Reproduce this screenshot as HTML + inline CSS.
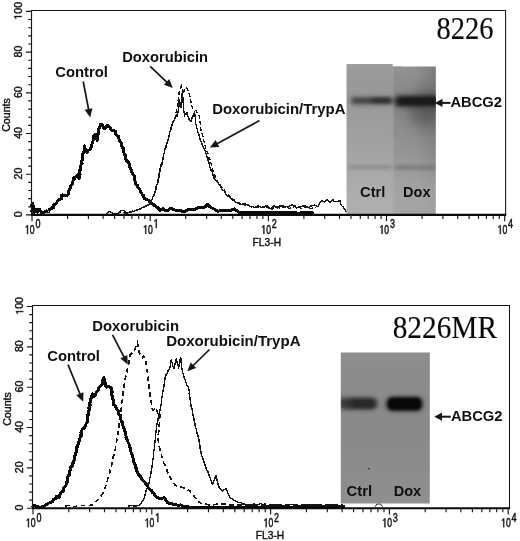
<!DOCTYPE html>
<html lang="en">
<head>
<meta charset="utf-8">
<title>ABCG2 expression - FL3-H histograms 8226 / 8226MR</title>
<style>
html,body{margin:0;padding:0;background:#fff;}
body{width:520px;height:541px;overflow:hidden;font-family:"Liberation Sans",sans-serif;}
svg{display:block;opacity:0.999;}
text{font-family:"Liberation Sans",sans-serif;fill:#101010;stroke:#101010;stroke-width:0.3px;paint-order:stroke;}
.lb{font-weight:bold;font-size:14.4px;stroke-width:0;}
.tk{font-size:10.6px;stroke-width:0.4px;}
.tx{font-size:12.6px;stroke-width:0.5px;}
.ti{font-family:"Liberation Serif",serif;font-size:31px;fill:#0a0a0a;stroke-width:0.15px;}
</style>
</head>
<body>
<svg width="520" height="541" viewBox="0 0 520 541">
<defs>
<filter id="b1" x="-20%" y="-60%" width="140%" height="220%"><feGaussianBlur stdDeviation="1.6 1.5"/></filter>
<filter id="b2" x="-20%" y="-60%" width="140%" height="220%"><feGaussianBlur stdDeviation="2.2 1.7"/></filter>
<filter id="b3" x="-20%" y="-80%" width="140%" height="260%"><feGaussianBlur stdDeviation="2.5 2.2"/></filter>
<filter id="b5" x="-30%" y="-30%" width="160%" height="160%"><feGaussianBlur stdDeviation="5 7"/></filter>
<filter id="soft"><feGaussianBlur stdDeviation="0.35"/></filter>
<linearGradient id="g1a" x1="0" y1="0" x2="0" y2="1">
 <stop offset="0" stop-color="#a2a2a2"/><stop offset="0.04" stop-color="#9b9b9b"/><stop offset="0.2" stop-color="#989898"/><stop offset="0.32" stop-color="#9c9c9c"/>
 <stop offset="0.5" stop-color="#a0a0a0"/><stop offset="0.65" stop-color="#a6a6a6"/><stop offset="0.8" stop-color="#acacac"/><stop offset="1" stop-color="#b0b0b0"/></linearGradient>
<linearGradient id="g1b" x1="0" y1="0" x2="0" y2="1">
 <stop offset="0" stop-color="#959595"/><stop offset="0.18" stop-color="#8c8c8c"/><stop offset="0.3" stop-color="#868686"/>
 <stop offset="0.45" stop-color="#8f8f8f"/><stop offset="0.6" stop-color="#979797"/><stop offset="0.8" stop-color="#a2a2a2"/><stop offset="1" stop-color="#a6a6a6"/></linearGradient>
<filter id="hb" x="-10%" y="0" width="120%" height="100%"><feGaussianBlur stdDeviation="1.3 0"/></filter>
<linearGradient id="g1c" x1="0" y1="0" x2="1" y2="0">
 <stop offset="0" stop-color="#000" stop-opacity="0"/><stop offset="0.55" stop-color="#000" stop-opacity="0.03"/>
 <stop offset="1" stop-color="#000" stop-opacity="0.2"/></linearGradient>
<linearGradient id="g1d" x1="0" y1="0" x2="0" y2="1">
 <stop offset="0" stop-color="#fff" stop-opacity="0"/><stop offset="0.45" stop-color="#fff" stop-opacity="0"/>
 <stop offset="0.75" stop-color="#fff" stop-opacity="1"/><stop offset="1" stop-color="#fff" stop-opacity="1"/></linearGradient>
<mask id="m1"><rect x="390" y="60" width="50" height="160" fill="#fff"/><rect x="390" y="60" width="50" height="160" fill="url(#g1e)"/></mask>
<linearGradient id="g1e" x1="0" y1="0" x2="0" y2="1">
 <stop offset="0" stop-color="#000" stop-opacity="0.3"/><stop offset="0.25" stop-color="#000" stop-opacity="0"/>
 <stop offset="0.5" stop-color="#000" stop-opacity="0.35"/><stop offset="0.8" stop-color="#000" stop-opacity="0.85"/><stop offset="1" stop-color="#000" stop-opacity="0.9"/></linearGradient>
<linearGradient id="g2" x1="0" y1="0" x2="0" y2="1">
 <stop offset="0" stop-color="#8d8d8d"/><stop offset="0.5" stop-color="#898989"/><stop offset="1" stop-color="#8f8f8f"/></linearGradient>
<clipPath id="cb1"><path d="M346.5 64 H392.6 V66.4 H435.8 V214 H346.5Z"/></clipPath>
<clipPath id="cb2"><rect x="340.8" y="352.6" width="89" height="150.9"/></clipPath>
</defs>
<rect width="520" height="541" fill="#fff"/>
<g>
<path d="M106.5 213.6 L109.8 211.3 L113 213.6 L115.5 213.4 L118 213.6 L121 210.6 L124 210.6 L126.5 213.2 L129 212.6 L130 212.5 L133 211.5 L136 210.5 L140 209 L142.5 207.7 L145 206.5 L147.4 205.3 L150 204 L150.8 201.5 L152 200 L152.5 198.1 L153.3 195.9 L154 195 L154.6 194 L154.9 192 L155.4 189.8 L156 188 L156.3 185.6 L157.2 183.8 L157.5 182.5 L157.9 181.6 L158 180 L158.5 177.7 L158.9 176.9 L159 175 L159.1 174 L159.7 171.9 L159.9 170 L160.1 168.3 L160.8 167.4 L161 165 L161.4 163.5 L162 162.5 L162.7 160.8 L163 158.5 L163.3 157 L163.7 155.6 L163.9 153.3 L164.2 152.9 L164.8 150 L165.1 148.8 L165.4 147.7 L165.9 146.1 L166.3 145.5 L167 143 L167.4 141.3 L167.9 140.2 L168.5 138.5 L168.9 136.7 L169.2 135.1 L169.3 134.6 L169.7 131.5 L170.2 131.3 L170.4 128.8 L170.8 127.7 L172 125 L172.5 122.7 L173 121.5 L174.5 120 L175.3 117.7 L176 117 L176.9 116.2 L177.3 114 L178 112.8 L178.3 110.8 L178.3 108.4 L178.7 108.6 L178.9 106 L179 104.8 L178.9 102.7 L179 101.4 L179.3 100 L179.8 101.4 L179.7 102.9 L180.1 104 L180.5 106.9 L180.9 108 L180.9 106.1 L181.1 105.7 L181.1 102.8 L181.3 100.9 L181.4 100.5 L181.7 97.8 L182.1 96.6 L182 94.8 L182.1 94.4 L182.3 92.3 L182.4 94.7 L182.5 94.9 L182.6 96 L182.9 97.9 L182.9 100.5 L182.9 100.6 L183 102.5 L183.4 104 L183.2 105.3 L183.5 108.3 L183.6 109 L183.8 111.5 L184.2 112.9 L184.5 114.3 L184.6 115.4 L186 113.5 L187 113 L187.3 115 L188 117 L188.8 118 L189.2 120 L190.8 121.5 L191.6 120.5 L192 118 L193 116 L193.9 113.9 L194.6 112.3 L194.9 114.7 L195.1 116.7 L195.3 118 L195.6 119.9 L195.8 120.9 L195.6 123.8 L196 124.6 L196.6 126.9 L196.7 127.8 L197.3 129 L197.5 131.3 L198.2 133 L198.5 133.8 L198.8 134.5 L199.5 137.1 L200.1 138.9 L200.1 139.5 L200.8 141.5 L202 143 L202.3 145.3 L203 146 L203.6 148.3 L204.7 149.8 L205.4 150.8 L206 153.6 L206.5 155 L207 157.4 L207.7 158.5 L208.1 160.3 L208.7 162.2 L209 163 L209.3 164.4 L209.5 165.1 L210 167.5 L210.6 169 L211.3 170.9 L211.8 171 L212.5 173 L213.1 175.2 L213.9 175.6 L214.2 178.8 L215 180 L216.2 181.1 L217.5 182 L218.7 184 L220 185 L220.8 186.2 L221.5 189.2 L222.5 190 L223.8 190.6 L225 192.5 L226.3 194.9 L227.5 196 L230 197.5 L231.4 198.6 L232.5 200 L235 201 L236.1 202.5 L237.5 203 L240 204 L241.4 204.4 L243 203.5 L244.7 203.6 L246.1 204.4 L247.5 205 L249.4 205.4 L251 207 L252.8 206.7 L255 207.5 L256.8 206.7 L258 205.5 L260.5 207.1 L262 207.5 L264.5 207 L266 205.5 L267.3 205.6 L268.8 208.4 L270 208.5 L270.9 208.5 L272.4 206.8 L274 206 L276.1 207.1 L278 208 L279.4 206.2 L281.8 205.9 L283 205.5 L284.3 206.4 L285.9 206.8 L288 206.5 L289.3 206.4 L291.7 204.8 L293 205.5 L294.4 205.6 L296.7 207.8 L298 207.5 L300.2 206.6 L301.5 206.6 L303 206 L305.2 205.9 L306.8 207.4 L308 207.5 L309.4 207.6 L311 205.9 L313 205.5 L314.2 205.1 L316.4 205.8 L318 206.5 L319.2 203.8 L320 203 L320.8 201.4 L322 200.5 L324 202 L325.5 201.4 L327 199.5 L328.5 200.6 L330 202.5 L331 201.7 L333 200 L334 201.7 L336 201.5 L337.9 201.5 L339 200.5 L340 201 L340.4 203.2 L341 205 L343 207 L343.5 207.3 L345 209.5 L346 212" fill="none" stroke="#161616" stroke-width="1.4" stroke-linejoin="miter" shape-rendering="crispEdges"/>
<path d="M112 213.4 L114.2 213.8 L115.8 213.4 L118 213.4 L121 211.5 L123.1 211.7 L125 213 L127.2 212.5 L129.2 211.8 L131 211.5 L133.2 210.7 L134.9 210.8 L137 210 L139.1 209.2 L141 208 L143 207.5 L144.8 206.9 L147.1 205.9 L149 204.5 L150.2 202.7 L151.9 199.7 L153 198 L153.7 196.2 L154.3 193.3 L155.1 191.8 L156 189.5 L156.7 187.7 L157.4 184.4 L158.2 182.2 L158.5 180 L158.9 178.5 L159.5 176.2 L160.1 174.4 L160.1 171.4 L160.5 170.1 L160.8 168.1 L161.5 166 L162 164.5 L162.5 161.5 L162.6 159.8 L163 158 L164 155.7 L163.8 154.2 L164.6 152 L164.9 150.1 L166.1 147.3 L166.3 145.4 L167 143 L167.5 140.7 L168.5 138.2 L168.7 135.9 L169.3 134.5 L170 132 L170.5 130.6 L171.5 128.6 L172.1 126.2 L172.5 124 L173.8 121.2 L174.6 118.5 L175.2 116.7 L175.9 114.1 L176.3 112 L176.5 109.9 L177.1 108.3 L177.7 106 L178.2 103.7 L177.9 100.9 L178.5 99 L178.8 96.3 L178.8 94.4 L179.2 92.3 L180.3 88.5 L181.5 86 L182.2 87.9 L182.3 90 L182.6 91.7 L183 94 L183.7 92.5 L184.2 90 L185.4 87.7 L187 88.5 L188.5 90.8 L189.5 94.5 L189.9 96.2 L190.3 98.5 L190.6 100.7 L191.3 103 L191.7 105.2 L192.3 107.7 L194 109.5 L196 110.8 L197.6 113 L199.2 115.4 L199.3 118.6 L199.7 121 L200.3 123.7 L200.3 126 L200.7 128.5 L201.1 130.1 L201.7 132 L202.1 134 L202.9 136.7 L203 138.5 L204.2 142 L204.5 143.7 L205.4 146 L205.9 148.4 L207 151 L207.8 152.8 L208.5 155.2 L209 158 L209.9 159.8 L210 162.4 L211.2 163.6 L211.5 166 L212.1 168.1 L213 170.3 L213.4 172 L214 174 L214.9 175.7 L216.1 177.9 L217 180.5 L218.1 182.5 L219.4 184.3 L221 186 L222.4 187.4 L223.9 189.6 L225 191.5 L226.5 193.2 L227.9 194.1 L229 196 L230.7 196.8 L232.6 199.2 L234 200 L236.5 202 L239 203 L241.2 203.9 L243.3 203.9 L245 205 L247 206 L249 206.3 L251 206.5 L253.6 206.5 L256 207 L257.7 207.4 L260 208.5 L261.6 207.5 L264 206 L265.9 206.8 L268 207.5 L270 207.7 L272 209.5 L273.9 207.4 L276 207 L277.3 206.7 L279.7 207.9 L281 208.5 L282.4 207.2 L284.8 207.4 L286 206.5 L287.6 207.1 L288.9 208.4 L291 208 L292.5 208 L294 206 L296 206 L298 206.5 L299.4 207.1 L301 208.5 L302.5 208.3 L303.9 207.6 L306 207 L307.4 206.7 L309.3 208.3 L311 208.5 L312.8 207.8 L314.1 207.7 L316 207.5" fill="none" stroke="#161616" stroke-width="1.4" stroke-dasharray="3.8 2.4" stroke-linejoin="miter" shape-rendering="crispEdges"/>
<path d="M32 214 L32.6 211.4 L31.7 211.6 L32.1 209.3 L32.6 208.1 L31.5 205 L32.2 205.5 L32.3 203 L31.8 205.2 L33.1 205.8 L33.7 206.7 L32.6 210.1 L33.6 209.2 L33.8 212 L34.5 212 L35.5 209.5 L36.4 210.1 L37.5 212.3 L38 209.3 L39.3 209 L40.4 210.6 L41.5 212.5 L44 212.5 L46.4 211 L48.5 211.5 L49.3 209.5 L51 209 L52.3 207.5 L53.8 207.5 L53.7 205.2 L55 204 L56.3 203.4 L57.5 201 L58.3 200.4 L60 199 L61.4 199 L61.4 195.3 L62.5 195 L65 196 L67.5 195 L68.3 194 L68.4 192.9 L69 190 L69.9 189.3 L70.5 186.1 L71 185 L72.4 184.4 L72.8 181.7 L73.5 180 L73.9 177.4 L75 178.2 L76 176 L77.5 175 L78.3 176.1 L79 179 L79.5 178 L79.4 175.5 L80.1 174.4 L79.7 172.8 L79.4 171.2 L80.6 168.4 L80.7 169.5 L80.3 166.3 L81 165 L82 163.5 L81.6 162.8 L81.3 161.5 L82.7 159 L82.2 157.7 L82.6 155.4 L82 155.8 L83 153 L83.9 152 L84.1 150.6 L84.2 148.6 L84.5 146 L85.1 148.2 L86 150 L87 152.5 L88.6 150 L89 150 L91 149 L90.9 147.6 L91.8 145.8 L92 143.8 L92.8 142.7 L93 141 L93.4 139.6 L93.6 136.2 L94.6 134.8 L95 134 L96 136.5 L96 137 L97 139.8 L97 141 L97.9 138.6 L97 138.2 L97.3 134.6 L97.9 135 L98.9 131.6 L99 131 L98.8 128.8 L100 126.5 L100.2 124.8 L101 124 L102.5 125 L103.2 127.6 L104 129 L106 127 L108 125 L109.5 127 L110.2 128 L111 130 L113 130 L115 131 L115.5 131.3 L115.9 134.1 L117 136 L118.6 136.4 L119 139 L119.3 140.5 L120.5 142 L121.7 144.1 L121.1 144.3 L122.5 147.5 L123.3 148.3 L123.8 150.2 L124 153 L124.6 155.2 L125.7 155.7 L125.5 159.1 L126 160 L128 162 L128.9 163.1 L129.5 165.4 L130 167.5 L130.8 168.6 L130.9 169.5 L132.5 173.7 L132.5 174 L133.7 175 L134.4 176.5 L134.2 179.2 L135 180 L134.9 180.8 L135.5 184.1 L137.6 185.4 L137.5 186 L137.8 187.5 L139.9 189.7 L140 190 L140.8 192.2 L141.4 193 L142.5 195 L143.6 195.5 L143.7 197.5 L145 199 L147.5 200 L149 200.1 L150 202.5 L152.5 204 L153.7 204.4 L155 206 L157.5 207.5 L159 209 L160 210.5 L163 208.8 L166 210.8 L168.2 210.1 L170 208.5 L172.3 208.9 L175 210 L177.6 210.4 L180 210.2 L184 212 L185.9 210.9 L188 209.5 L190.4 209.5 L192.5 209.4 L195 209.2 L197.4 208.1 L200 207.2 L202.7 207.3 L205 207 L207.7 204.4 L209.4 206.4 L211 207.5 L212.9 208.5 L215 209.5 L218 211.5 L220.1 210.6 L222.6 210.5 L225 210 L227.7 210.2 L230 210.6 L232.3 209.8 L234.6 209 L236.3 210.4 L238.5 212.2 L240.6 212.1 L243.3 212.3 L245.2 212.5 L247.8 212.8 L250 212.5 L252.6 212.7 L254.9 212.6 L257.4 212.2 L259.4 212.7 L262 212.2 L264.7 212.5 L267.2 212.4 L270 212.5 L272.6 212.6 L275 212.7 L277.7 212.5 L280 213 L282.7 212.7 L285 212.8 L287.4 212.3 L290 212.5 L292.3 212.7 L294.9 212.9 L297.4 213 L300.1 213 L302.5 212.7 L305 212.7 L307.4 212.8 L309.5 212.5 L312 212.7 L313 214.4" fill="none" stroke="#0a0a0a" stroke-width="3" stroke-linejoin="round" shape-rendering="crispEdges"/>
<g clip-path="url(#cb1)">
<rect x="346" y="63" width="56" height="152" fill="url(#g1a)"/>
<rect x="392.8" y="63" width="54" height="152" fill="url(#g1b)" filter="url(#hb)"/>
<rect x="392.6" y="63" width="44" height="152" fill="url(#g1c)" mask="url(#m1)"/>
<ellipse cx="424" cy="109" rx="16" ry="17" fill="#333" opacity="0.38" filter="url(#b5)"/>
<rect x="392.2" y="66" width="1.2" height="148" fill="#b0b0b0" opacity="0.3"/>
<rect x="349" y="165" width="42" height="4.4" fill="#858585" opacity="0.7" filter="url(#b2)"/>
<rect x="395" y="165" width="41" height="4.8" fill="#777" opacity="0.8" filter="url(#b2)"/>
<rect x="350" y="95.7" width="43" height="10" rx="4" fill="#555" opacity="0.45" filter="url(#b3)"/>
<rect x="352" y="97.8" width="40" height="5.6" rx="2.5" fill="#333" opacity="0.7" filter="url(#b2)"/>
<rect x="372" y="97.6" width="19" height="5.6" rx="2.5" fill="#222" opacity="0.55" filter="url(#b2)"/>
<rect x="394" y="94.3" width="46" height="13.6" rx="5" fill="#333" opacity="0.55" filter="url(#b3)"/>
<rect x="396" y="96.8" width="44" height="9" rx="4" fill="#161616" opacity="0.9" filter="url(#b2)"/>
</g>
<text x="360.1" y="196.8" class="lb" textLength="25.2" lengthAdjust="spacingAndGlyphs">Ctrl</text>
<text x="403.1" y="196.8" class="lb" textLength="27.5" lengthAdjust="spacingAndGlyphs">Dox</text>
<path d="M31.5 10.5 H505.6 V214.9" fill="none" stroke="#161616" stroke-width="1.05"/>
<path d="M31.5 10 V214.9" fill="none" stroke="#161616" stroke-width="1.15"/>
<path d="M30.9 214.9 H506.2" fill="none" stroke="#0a0a0a" stroke-width="2.1"/>
<path d="M25.9 214.9H31.5M28.2 206.8H31.5M28.2 198.6H31.5M28.2 190.5H31.5M28.2 182.3H31.5M25.9 174.2H31.5M28.2 166.1H31.5M28.2 157.9H31.5M28.2 149.8H31.5M28.2 141.6H31.5M25.9 133.5H31.5M28.2 125.4H31.5M28.2 117.2H31.5M28.2 109.1H31.5M28.2 100.9H31.5M25.9 92.8H31.5M28.2 84.7H31.5M28.2 76.5H31.5M28.2 68.4H31.5M28.2 60.2H31.5M25.9 52.1H31.5M28.2 44H31.5M28.2 35.8H31.5M28.2 27.7H31.5M28.2 19.5H31.5M25.9 11.4H31.5" stroke="#161616" stroke-width="1.15" fill="none"/>
<path d="M32 214.9V221.2M67.6 214.9V218.9M88.4 214.9V218.9M103.1 214.9V218.9M114.6 214.9V218.9M124 214.9V218.9M131.9 214.9V218.9M138.7 214.9V218.9M144.8 214.9V218.9M150.2 214.9V221.2M185.7 214.9V218.9M206.6 214.9V218.9M221.3 214.9V218.9M232.8 214.9V218.9M242.1 214.9V218.9M250 214.9V218.9M256.9 214.9V218.9M262.9 214.9V218.9M268.4 214.9V221.2M303.9 214.9V218.9M324.7 214.9V218.9M339.5 214.9V218.9M351 214.9V218.9M360.3 214.9V218.9M368.2 214.9V218.9M375.1 214.9V218.9M381.1 214.9V218.9M386.5 214.9V221.2M422.1 214.9V218.9M442.9 214.9V218.9M457.7 214.9V218.9M469.1 214.9V218.9M478.5 214.9V218.9M486.4 214.9V218.9M493.2 214.9V218.9M499.3 214.9V218.9M504.7 214.9V221.2" stroke="#161616" stroke-width="1.15" fill="none"/>
<text transform="translate(21.6 214.3) rotate(-90)" text-anchor="middle" class="tk">0</text>
<text transform="translate(21.6 173.6) rotate(-90)" text-anchor="middle" class="tk">20</text>
<text transform="translate(21.6 132.9) rotate(-90)" text-anchor="middle" class="tk">40</text>
<text transform="translate(21.6 92.2) rotate(-90)" text-anchor="middle" class="tk">60</text>
<text transform="translate(21.6 51.5) rotate(-90)" text-anchor="middle" class="tk">80</text>
<g transform="translate(21.6 10.8) rotate(-90)"><path d="M-6.18 0.00 L-6.18 -6.40 L-7.83 -5.23 L-7.83 -6.11 L-6.11 -7.29 L-5.25 -7.29 L-5.25 0.00Z" fill="#101010" stroke="#101010" stroke-width="0.4"/><text x="-2.95" y="0" class="tk">00</text></g>
<text transform="translate(10.2 115) rotate(-90)" text-anchor="middle" class="tk">Counts</text>
<path d="M27.17 233.90 L27.17 226.29 L25.83 227.69 L25.83 226.64 L27.23 225.23 L27.93 225.23 L27.93 233.90Z" fill="#101010" stroke="#101010" stroke-width="0.5"/>
<text x="29.8" y="233.9" class="tx" textLength="4.8" lengthAdjust="spacingAndGlyphs">0</text>
<text x="35.4" y="227.9" class="tx" textLength="5" lengthAdjust="spacingAndGlyphs">0</text>
<path d="M145.35 233.90 L145.35 226.29 L144.01 227.69 L144.01 226.64 L145.41 225.23 L146.11 225.23 L146.11 233.90Z" fill="#101010" stroke="#101010" stroke-width="0.5"/>
<text x="148" y="233.9" class="tx" textLength="4.8" lengthAdjust="spacingAndGlyphs">0</text>
<path d="M155.84 227.90 L155.84 220.29 L154.44 221.69 L154.44 220.64 L155.90 219.23 L156.63 219.23 L156.63 227.90Z" fill="#101010" stroke="#101010" stroke-width="0.5"/>
<path d="M263.52 233.90 L263.52 226.29 L262.18 227.69 L262.18 226.64 L263.58 225.23 L264.28 225.23 L264.28 233.90Z" fill="#101010" stroke="#101010" stroke-width="0.5"/>
<text x="266.2" y="233.9" class="tx" textLength="4.8" lengthAdjust="spacingAndGlyphs">0</text>
<text x="271.8" y="227.9" class="tx" textLength="5" lengthAdjust="spacingAndGlyphs">2</text>
<path d="M381.70 233.90 L381.70 226.29 L380.36 227.69 L380.36 226.64 L381.76 225.23 L382.46 225.23 L382.46 233.90Z" fill="#101010" stroke="#101010" stroke-width="0.5"/>
<text x="384.3" y="233.9" class="tx" textLength="4.8" lengthAdjust="spacingAndGlyphs">0</text>
<text x="389.9" y="227.9" class="tx" textLength="5" lengthAdjust="spacingAndGlyphs">3</text>
<path d="M499.87 233.90 L499.87 226.29 L498.53 227.69 L498.53 226.64 L499.93 225.23 L500.63 225.23 L500.63 233.90Z" fill="#101010" stroke="#101010" stroke-width="0.5"/>
<text x="502.5" y="233.9" class="tx" textLength="4.8" lengthAdjust="spacingAndGlyphs">0</text>
<text x="508.1" y="227.9" class="tx" textLength="5" lengthAdjust="spacingAndGlyphs">4</text>
<text x="266.8" y="245.7" text-anchor="middle" class="tk" textLength="28.5" lengthAdjust="spacingAndGlyphs">FL3-H</text>
<text x="55.2" y="77.3" class="lb" textLength="52.8" lengthAdjust="spacingAndGlyphs">Control</text>
<text x="122.2" y="62.4" class="lb" textLength="85.8" lengthAdjust="spacingAndGlyphs">Doxorubicin</text>
<text x="212.2" y="114" class="lb" textLength="133.3" lengthAdjust="spacingAndGlyphs">Doxorubicin/TrypA</text>
<path d="M83.2 81.5 L88.7 110" stroke="#161616" stroke-width="1.7" fill="none"/><path d="M90.2 117.5 L84.7 109.8 L92.4 108.3 Z" fill="#161616"/>
<path d="M150.2 66.4 L167.3 82.7" stroke="#161616" stroke-width="1.7" fill="none"/><path d="M172.8 87.9 L163.9 84.8 L169.3 79.1 Z" fill="#161616"/>
<path d="M259.5 120.6 L216.6 144" stroke="#161616" stroke-width="1.7" fill="none"/><path d="M209.9 147.6 L215.6 140.1 L219.3 146.9 Z" fill="#161616"/>
<path d="M450.5 102.9 L441.5 102.9" stroke="#161616" stroke-width="2.0" fill="none"/><path d="M434.9 102.9 L442.5 98.8 L442.5 107 Z" fill="#161616"/>
<text x="450.4" y="107.1" class="lb" textLength="51.6" lengthAdjust="spacingAndGlyphs">ABCG2</text>
<text x="436.6" y="38.5" class="ti" textLength="57" lengthAdjust="spacingAndGlyphs">8226</text>
</g>
<g>
<path d="M128 506.3 L131 505.6 L136 506 L140 505 L142 502 L142.9 500.5 L143.5 499 L144.2 497.8 L145 495 L145.6 494 L145.8 492.3 L146.4 489.6 L147 489 L147.4 487.8 L147.9 485.8 L148.7 484.7 L149 482.5 L149.5 480.8 L149.7 478.7 L149.7 478.7 L150.2 476.9 L150.3 475.8 L150.9 473.6 L151 472 L151.2 470.7 L151.7 468.2 L152 467.5 L152.1 465.4 L152.4 465.1 L152.5 463 L152.6 460.5 L153 458.9 L153.3 457.9 L153.4 456.3 L153.3 455.5 L153.8 453.4 L153.7 451.7 L154 450 L154.3 448 L154.4 446.3 L154.5 445.4 L154.8 443 L154.8 442.9 L155.2 440.3 L155.2 439 L155.3 437.6 L155.6 435 L155.7 434 L155.9 432.3 L155.9 431.6 L156.4 428.8 L156.3 428 L156.4 427 L157 424.6 L157.4 422.6 L157.6 421 L158 420.3 L158.2 417.8 L158.5 416.1 L159 415 L159.2 412.6 L159.7 412.3 L160 410 L160.5 408.9 L160.5 407.2 L161 405 L161.1 404.1 L161.7 402.2 L161.7 400.3 L161.8 397.6 L162.1 396.9 L162.5 395 L162.6 393.4 L162.9 391.1 L163.2 390.4 L163.5 388.1 L163.8 386.8 L164 385 L164.5 383.4 L164.4 382.5 L164.6 380.2 L165 379 L165.3 376.8 L166 375 L167 373.4 L168 371 L169.2 369.1 L170 367.5 L170.2 365.7 L170.4 365.3 L170.6 363 L170.9 361.5 L171.3 359.5 L171.8 362.2 L172.1 362.8 L172.6 365 L173.2 367.2 L173.8 369 L174.1 367.2 L174.7 365.5 L175 363.5 L175.6 362 L176.2 359.5 L176.6 360.9 L177.1 362.6 L177.5 364 L178 364.9 L178.7 367.5 L179.1 366.8 L179.3 364.2 L179.3 362.1 L179.7 361 L180.2 359 L180.6 357 L180.8 357.7 L181 360.9 L181 362.7 L181.5 364.1 L181.5 365 L181.7 365.6 L181.8 368.5 L182.3 369.8 L182.3 371.5 L182.5 372.5 L183.1 373.5 L183.7 375.6 L184.3 378 L184.8 379.1 L185.6 381.1 L186 382.5 L186.7 385.1 L187.5 386 L188.4 387.1 L189 390 L189.3 391.3 L189.2 393.8 L189.5 395.2 L189.7 396.1 L190 398 L190.1 399.8 L190.4 401.5 L190.6 402.6 L191 405 L191.2 407 L191.6 407.8 L192.2 409.5 L192.2 412.2 L192.6 413 L193 415 L193.3 416.7 L193.8 418.4 L194 419.4 L194.3 421.1 L194.8 423 L195 425 L195.6 427.3 L195.9 428 L196.3 429.2 L196.6 431.9 L197 433 L197.6 434.4 L198.1 437 L198.4 437.9 L199 440 L199.1 441.1 L199.3 442.1 L199.7 444.5 L200 446 L200.2 448.3 L200.7 448.7 L200.7 450.1 L201 452.5 L201.4 454.6 L202.1 456.6 L202.7 457 L203 459 L203.5 461.3 L203.8 461.4 L204.7 464.1 L205 465 L205.8 466.9 L206.2 468.9 L207 470 L207.8 471.2 L208.3 473.9 L209 475 L209.4 476.3 L210.4 478.2 L210.8 480 L211.3 481.1 L212 482.5 L212.5 485 L213.2 482.5 L213.7 481.7 L214.3 480 L215.1 477.6 L216 476 L216.6 478.2 L216.6 479.5 L217.1 480 L217.5 482 L218.2 484.5 L218.6 485.2 L219 487.5 L220.8 489.5 L222.5 491 L224.3 489.5 L226 489 L226.6 490.3 L227.4 491.5 L228 493.5 L229.2 496 L230 497.5 L231.5 498.5 L233 499.5 L234.3 500.5 L236 501 L237.8 502.4 L239.3 502.5 L240.9 502.8 L242.5 504 L244.4 504.1 L246 504.3 L247.9 505 L250 505 L252.2 505.3 L254 504 L255.7 505.1 L257.5 505 L259.2 504.2 L261 503.5 L263 504.6 L265 504 L266.1 505.8 L267.5 506 L275 504.8 L279 505 L283 505.4 L287.4 505 L292 504.7 L296 505 L300 505.4 L305 505.1 L310 504.8 L314.9 505 L320 505.4 L325 505.2 L330 504.8 L335.6 505.2 L341 505.4 L345 505.2" fill="none" stroke="#161616" stroke-width="1.4" stroke-linejoin="miter" shape-rendering="crispEdges"/>
<path d="M375 506.6 L377 504 L380.5 504 L382.5 506.6" fill="none" stroke="#161616" stroke-width="1" stroke-linejoin="round"/>
<path d="M65 506.5 L68 505.3 L71 505.8 L74 506.5 L78.1 506.1 L82 505.5 L85.9 505.3 L90 505.3 L92.5 505 L95 503 L97.5 500 L100 497.5 L101.4 495.4 L102.5 494 L103.6 492.2 L104 489.8 L105 488 L105.7 486.2 L106.4 483.8 L107 481.9 L107.5 480 L107.9 477.6 L108.6 476.4 L109.3 474 L110 471.6 L110.2 469.8 L111 467.5 L111.6 465.4 L112.1 462.9 L112.4 460.7 L113 459 L113.3 456.3 L113.9 455 L114.5 452.7 L115 450 L115.6 448.1 L115.6 446.2 L116.3 444.1 L116.4 441.7 L117 440 L117.3 438.3 L117.6 435.5 L118.2 433.5 L118.1 431.7 L118.4 429.9 L119 427.5 L119 425.2 L119.3 423.6 L119.5 421.3 L120.1 419.2 L120.3 417.2 L120.5 415.1 L120.8 413 L120.8 410.9 L121.1 408.5 L121.8 406.7 L121.6 403.7 L122.1 402.1 L122.4 399.2 L122.5 397.5 L122.8 395.6 L123.2 392.6 L123.3 390.8 L123.8 388 L123.9 385.8 L124.4 384.1 L124.6 381.8 L125 380 L125.4 377.3 L126 376 L126.7 373 L127 371 L127.4 368.7 L127.8 366.3 L128.4 364.3 L129 362.5 L129.2 360.4 L129.7 357.2 L130 355 L132 353 L134 351 L134.8 349.4 L135.8 347 L136.6 345 L137.5 342.5 L138 345.3 L138.3 348 L138.8 350.7 L139 352.5 L140.8 355 L142.5 357.5 L143.8 356 L145 357.5 L145.6 360 L145.8 362.4 L146.3 365 L146.7 368 L147 370.3 L147.5 372.5 L147.8 375.2 L148.3 376.8 L148.2 379.4 L148.3 381.5 L148.8 384 L149.1 385.9 L149.1 388 L149.5 390.5 L149.9 392.7 L150 395 L150.3 396.8 L150.4 398.9 L150.8 400.7 L151.3 403 L151.5 405.6 L151.9 407.8 L152.5 410 L154.3 409.5 L156 407.5 L156.8 410.4 L157.5 413 L158.5 415.1 L159 417.5 L159.7 414 L160.2 412.5 L160.1 414.7 L159.8 416.2 L159.7 418.5 L159.7 421.3 L159.5 422.5 L159.2 425 L159 427.4 L158.9 428.6 L158.8 430.9 L158.4 433.4 L157.8 435.4 L157.8 437 L158 439.5 L158.3 441.1 L158.4 443.8 L159 446 L159.7 448.1 L160 450.3 L160.5 452.5 L161.4 454.5 L161.9 456.6 L162.5 459 L163.1 461.1 L164 463.5 L165 465 L166.1 467.8 L166.9 470.1 L167.5 472 L168.3 473.7 L169.4 475.5 L170 477.5 L171.1 479.3 L172.5 482 L175 485 L177.2 486 L179 486 L182.5 487.5 L186 489 L188.3 490.2 L190 491 L191.7 493 L193 495 L194.7 496.9 L196 499 L197.5 500.1 L199 502 L200.9 503.1 L202.5 504 L204.8 504.1 L207 504.3 L209.7 505.1 L212.5 505 L218 504 L225 504 L230 505 L235 504.8 L239.9 505.2 L245 505.2 L249.9 505.2 L254.9 505.1 L260 504.8 L265 505.1 L270.1 505.2 L275 505.2 L280 505 L285 505 L290 504.8 L294.9 504.8 L300.1 505.2 L305 505.2 L309.9 505.2 L315 505.1 L320 504.8 L325 504.8 L329.9 505 L335 505.2 L339 505.1 L343 505" fill="none" stroke="#161616" stroke-width="1.6" stroke-dasharray="4.8 3.2" stroke-linejoin="miter" shape-rendering="crispEdges"/>
<path d="M32.5 507.3 L34 505.3 L36.5 506.8 L38.3 506.7 L39.9 508 L41.7 507 L43.3 506.6 L45.5 505 L47 504.1 L48.3 503.2 L50.5 502.6 L52.5 501.5 L53.5 499.4 L54.5 499 L56 498.1 L56.6 496.5 L58 497.8 L59.1 497.6 L59.4 495 L60.8 493.5 L60.3 493.6 L61.6 491.6 L63.1 491.6 L63.3 489 L65 486.6 L66 485.3 L66 482.4 L67.5 481.6 L67.2 480 L67.8 477.4 L68.4 475.3 L69.3 474.7 L69.1 473.2 L69.7 471.6 L70.2 469.9 L70.1 468.1 L70.8 466.6 L72.4 466.1 L72.5 463 L73.6 462.4 L74.1 460 L74.1 457.8 L74.3 456.1 L75.2 455.7 L75.8 453.3 L76 452.5 L76.9 451.2 L76.3 447 L77 447.7 L77.4 445 L78.1 444.6 L79.3 440.6 L79.9 440 L79.9 439 L80.3 435.6 L81.3 436.2 L80.9 432.3 L81.6 431.6 L82.2 428.9 L84.1 428.3 L84.3 427.6 L85.3 425.6 L86 424 L87.4 421.7 L87.9 419.3 L88 417.5 L87.8 415.9 L87.8 414.5 L88.8 414.8 L88.5 412 L89.3 409.9 L88.8 408.1 L89.5 408.2 L90.2 404.6 L89.4 403.3 L90 402.5 L90.2 401.7 L90.3 399 L91.3 398 L92 394.9 L92.5 394 L93.8 396.5 L95 396 L95.8 393.7 L96.3 392.3 L97 391 L98 390.4 L99 387.5 L101 386 L102.3 384.2 L102.5 382 L102.5 379.7 L104 380.1 L104 377.5 L103.8 378.3 L105 381.1 L104.6 382 L105.4 383.2 L105 386 L106.6 387.2 L108 386.5 L108.9 386.8 L111 387.5 L111.9 388 L111.7 390.2 L112.1 392 L111.5 394.6 L112 396 L112.6 396.7 L112.3 397.9 L113.5 400.7 L113 402.3 L113.2 404.6 L114 405 L114.9 405.2 L116.5 408 L116.7 409.4 L118 410.2 L119 412.5 L118.9 414.3 L120.5 415.4 L120.6 418.6 L120.8 419 L121.3 421 L121 421.1 L122.7 422.2 L122.5 425 L123.6 427 L123.6 426.8 L124.2 429.5 L124.3 431 L125.4 432.2 L125.2 433.1 L126.1 436.5 L126 437.5 L127 439.6 L127.9 441.3 L128 442 L128.9 443.4 L129.9 446.7 L130 447.5 L130.8 448.8 L130.9 451.4 L131 452.3 L131.8 453.7 L132 455 L132.6 455.4 L133.3 459.3 L133 460.1 L133.7 461.6 L134 462.5 L135.1 464.2 L135.6 465.1 L135.8 468 L136.5 468.3 L136.5 471 L137.5 472.5 L138.7 474.8 L140 476 L141.4 477.6 L141 478 L142.5 480 L144 481 L145 483 L145.8 483.7 L147.5 486 L149 488.8 L150 489.5 L151.8 490.8 L152.5 492.5 L154 493.8 L155 496 L157.5 497.5 L160 499 L162 498.5 L164 497.5 L164.9 498.2 L166 500.5 L167.5 502.5 L169.8 503.5 L171 503 L172.8 504.5 L175 504 L176.7 505 L179 505.5 L180.7 504.8 L182.5 506 L186 506.8 L191 507.1 L196 507.4 L200.4 507.5 L205 507.5 L210 507.5 L215 507.8 L220.1 507.7 L225 507.8 L230 507.7 L234 507.7 L238 507.6 L242.1 507.7 L246.1 507.6 L250 507.8 L254 507.7 L258 507.8 L261.9 507.9 L266.1 507.7 L269.9 507.8 L274.1 507.9 L278 507.7 L282 507.7 L285.9 507.8 L290 507.8 L294.2 507.9 L298.6 507.7 L302.8 507.8 L307.1 507.8 L311.4 507.8 L315.8 507.9 L320 507.8 L324.2 507.9 L328.3 507.8 L332.5 507.9 L336.6 507.7 L340.8 507.8 L345 507.8" fill="none" stroke="#0a0a0a" stroke-width="3" stroke-linejoin="round" shape-rendering="crispEdges"/>
<g clip-path="url(#cb2)">
<rect x="340" y="352" width="91" height="153" fill="url(#g2)"/>
<rect x="339" y="397.6" width="37.5" height="12" rx="5" fill="#2a2a2a" opacity="0.85" filter="url(#b3)"/>
<rect x="350" y="399.3" width="26" height="8.8" rx="4" fill="#1c1c1c" opacity="0.6" filter="url(#b2)"/>
<rect x="387.5" y="397.6" width="34" height="12.6" rx="5" fill="#050505" filter="url(#b1)"/>
<rect x="386" y="396.5" width="37" height="15" rx="6" fill="#111" opacity="0.55" filter="url(#b3)"/>
<circle cx="369" cy="468.6" r="0.9" fill="#333"/>
</g>
<text x="346.5" y="496" class="lb" textLength="25.6" lengthAdjust="spacingAndGlyphs">Ctrl</text>
<text x="393.7" y="496" class="lb" textLength="27.5" lengthAdjust="spacingAndGlyphs">Dox</text>
<path d="M32.5 305.4 H509.5 V508.3" fill="none" stroke="#161616" stroke-width="1.05"/>
<path d="M32.5 304.9 V508.3" fill="none" stroke="#161616" stroke-width="1.15"/>
<path d="M31.9 508.3 H510.1" fill="none" stroke="#0a0a0a" stroke-width="2.1"/>
<path d="M26.9 508.2H32.5M29.2 500.1H32.5M29.2 492.1H32.5M29.2 484H32.5M29.2 475.9H32.5M26.9 467.9H32.5M29.2 459.8H32.5M29.2 451.7H32.5M29.2 443.7H32.5M29.2 435.6H32.5M26.9 427.5H32.5M29.2 419.5H32.5M29.2 411.4H32.5M29.2 403.3H32.5M29.2 395.2H32.5M26.9 387.2H32.5M29.2 379.1H32.5M29.2 371H32.5M29.2 363H32.5M29.2 354.9H32.5M26.9 346.8H32.5M29.2 338.8H32.5M29.2 330.7H32.5M29.2 322.6H32.5M29.2 314.6H32.5M26.9 306.5H32.5" stroke="#161616" stroke-width="1.15" fill="none"/>
<path d="M33 508.3V514.6M68.8 508.3V512.3M89.7 508.3V512.3M104.5 508.3V512.3M116 508.3V512.3M125.4 508.3V512.3M133.4 508.3V512.3M140.3 508.3V512.3M146.4 508.3V512.3M151.8 508.3V514.6M187.6 508.3V512.3M208.5 508.3V512.3M223.3 508.3V512.3M234.8 508.3V512.3M244.2 508.3V512.3M252.2 508.3V512.3M259.1 508.3V512.3M265.2 508.3V512.3M270.6 508.3V514.6M306.4 508.3V512.3M327.3 508.3V512.3M342.1 508.3V512.3M353.6 508.3V512.3M363 508.3V512.3M371 508.3V512.3M377.9 508.3V512.3M384 508.3V512.3M389.4 508.3V514.6M425.2 508.3V512.3M446.1 508.3V512.3M460.9 508.3V512.3M472.4 508.3V512.3M481.8 508.3V512.3M489.8 508.3V512.3M496.7 508.3V512.3M502.8 508.3V512.3M508.2 508.3V514.6" stroke="#161616" stroke-width="1.15" fill="none"/>
<text transform="translate(23.3 507.6) rotate(-90)" text-anchor="middle" class="tk">0</text>
<text transform="translate(23.3 467.3) rotate(-90)" text-anchor="middle" class="tk">20</text>
<text transform="translate(23.3 426.9) rotate(-90)" text-anchor="middle" class="tk">40</text>
<text transform="translate(23.3 386.6) rotate(-90)" text-anchor="middle" class="tk">60</text>
<text transform="translate(23.3 346.2) rotate(-90)" text-anchor="middle" class="tk">80</text>
<g transform="translate(23.3 305.9) rotate(-90)"><path d="M-6.18 0.00 L-6.18 -6.40 L-7.83 -5.23 L-7.83 -6.11 L-6.11 -7.29 L-5.25 -7.29 L-5.25 0.00Z" fill="#101010" stroke="#101010" stroke-width="0.4"/><text x="-2.95" y="0" class="tk">00</text></g>
<text transform="translate(10.6 409) rotate(-90)" text-anchor="middle" class="tk">Counts</text>
<path d="M28.17 527.20 L28.17 519.59 L26.83 520.99 L26.83 519.94 L28.23 518.53 L28.93 518.53 L28.93 527.20Z" fill="#101010" stroke="#101010" stroke-width="0.5"/>
<text x="30.8" y="527.2" class="tx" textLength="4.8" lengthAdjust="spacingAndGlyphs">0</text>
<text x="36.4" y="522" class="tx" textLength="5" lengthAdjust="spacingAndGlyphs">0</text>
<path d="M146.97 527.20 L146.97 519.59 L145.63 520.99 L145.63 519.94 L147.03 518.53 L147.73 518.53 L147.73 527.20Z" fill="#101010" stroke="#101010" stroke-width="0.5"/>
<text x="149.6" y="527.2" class="tx" textLength="4.8" lengthAdjust="spacingAndGlyphs">0</text>
<path d="M157.46 522.00 L157.46 514.39 L156.07 515.79 L156.07 514.74 L157.53 513.33 L158.26 513.33 L158.26 522.00Z" fill="#101010" stroke="#101010" stroke-width="0.5"/>
<path d="M265.77 527.20 L265.77 519.59 L264.43 520.99 L264.43 519.94 L265.83 518.53 L266.53 518.53 L266.53 527.20Z" fill="#101010" stroke="#101010" stroke-width="0.5"/>
<text x="268.4" y="527.2" class="tx" textLength="4.8" lengthAdjust="spacingAndGlyphs">0</text>
<text x="274" y="522" class="tx" textLength="5" lengthAdjust="spacingAndGlyphs">2</text>
<path d="M384.57 527.20 L384.57 519.59 L383.23 520.99 L383.23 519.94 L384.63 518.53 L385.33 518.53 L385.33 527.20Z" fill="#101010" stroke="#101010" stroke-width="0.5"/>
<text x="387.2" y="527.2" class="tx" textLength="4.8" lengthAdjust="spacingAndGlyphs">0</text>
<text x="392.8" y="522" class="tx" textLength="5" lengthAdjust="spacingAndGlyphs">3</text>
<path d="M503.37 527.20 L503.37 519.59 L502.03 520.99 L502.03 519.94 L503.43 518.53 L504.13 518.53 L504.13 527.20Z" fill="#101010" stroke="#101010" stroke-width="0.5"/>
<text x="506" y="527.2" class="tx" textLength="4.8" lengthAdjust="spacingAndGlyphs">0</text>
<text x="511.6" y="522" class="tx" textLength="5" lengthAdjust="spacingAndGlyphs">4</text>
<text x="270" y="539.1" text-anchor="middle" class="tk" textLength="28.5" lengthAdjust="spacingAndGlyphs">FL3-H</text>
<text x="47.2" y="361" class="lb" textLength="52.8" lengthAdjust="spacingAndGlyphs">Control</text>
<text x="92.2" y="331" class="lb" textLength="86.8" lengthAdjust="spacingAndGlyphs">Doxorubicin</text>
<text x="166.2" y="346" class="lb" textLength="134.3" lengthAdjust="spacingAndGlyphs">Doxorubicin/TrypA</text>
<path d="M68 364.6 L80.3 394.7" stroke="#161616" stroke-width="1.7" fill="none"/><path d="M83.2 401.7 L76.3 395.2 L83.5 392.3 Z" fill="#161616"/>
<path d="M112.5 334.8 L124.3 357.6" stroke="#161616" stroke-width="1.7" fill="none"/><path d="M127.8 364.4 L120.4 358.6 L127.3 355 Z" fill="#161616"/>
<path d="M209.5 349.5 L192.7 366" stroke="#161616" stroke-width="1.7" fill="none"/><path d="M187.3 371.3 L190.7 362.5 L196.2 368.1 Z" fill="#161616"/>
<path d="M450.8 416.7 L441 416.7" stroke="#161616" stroke-width="2.0" fill="none"/><path d="M434.4 416.7 L442 412.6 L442 420.8 Z" fill="#161616"/>
<text x="450.9" y="421" class="lb" textLength="51.6" lengthAdjust="spacingAndGlyphs">ABCG2</text>
<text x="392.7" y="338.2" class="ti" textLength="104.3" lengthAdjust="spacingAndGlyphs">8226MR</text>
</g>
</svg>
</body>
</html>
